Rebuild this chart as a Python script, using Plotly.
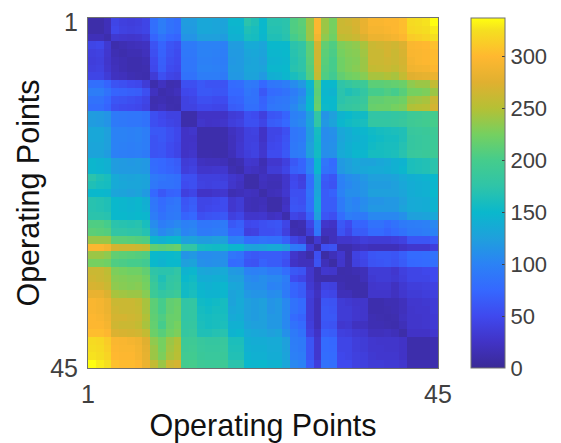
import plotly.graph_objects as go

labels = list(range(1, 46))
tick_text = ["1", "45"]
x_tick_positions = [0.5, 45.5]
y_tick_positions = [1, 45.5]
cbar_ticks = [0, 50, 100, 150, 200, 250, 300]
axis_name = "Operating Points"

# Upper triangle: each row runs from the diagonal to column 45
upper_rows = [
 [10,10,18, 45,40,38,40,45, 82,95,85,80, 122,122, 132,132,130,128, 148,148, 172,165, 150,170,170, 172, 205,212, 240, 297, 240,225, 262,265,270,282, 295,295,298,298, 303, 322,324,326,337],
 [10,18, 48,42,40,42,45, 82,95,85,80, 120,120, 132,132,130,128, 145,146, 165,160, 150,168,168, 172, 205,210, 240, 297, 240,225, 262,262,268,282, 292,292,295,298, 303, 320,322,324,330],
 [12, 32,30,28,30,35, 72,85,75,72, 115,115, 125,125,125,122, 142,142, 160,158, 148,165,165, 170, 200,208, 240, 290, 235,222, 255,258,262,272, 285,285,288,292, 298, 312,315,318,325],
 [12,15,18,20,22, 58,72,60,55, 92,92, 100,100,100,98, 122,122, 135,135, 130,150,150, 150, 172,178, 212, 268, 215,205, 228,232,235,245, 262,265,268,265, 272, 296,298,300,305],
 [12,15,15,20, 55,70,58,52, 90,90, 100,100,98,96, 120,120, 130,132, 128,148,148, 150, 170,178, 212, 265, 212,203, 225,230,232,242, 262,262,268,262, 270, 295,296,298,302],
 [12,12,15, 50,68,55,50, 88,88, 98,98,96,95, 118,120, 128,130, 125,145,146, 148, 168,175, 210, 265, 210,200, 222,228,230,240, 262,262,265,262, 268, 292,296,298,302],
 [12,13, 48,66,52,48, 88,88, 100,100,98,96, 120,120, 130,130, 128,148,148, 150, 170,175, 208, 262, 208,200, 222,228,232,240, 258,260,262,258, 266, 288,290,292,298],
 [12, 35,55,45,42, 85,85, 95,95,95,92, 118,118, 128,128, 120,140,142, 148, 160,168, 205, 258, 205,195, 215,222,225,232, 245,245,248,245, 258, 275,278,280,285],
 [12,22,13,15, 55,55, 62,58,58,58, 78,80, 92,90, 75,88,90, 95, 108,118, 148, 215, 150,150, 175,182,188,190, 212,212,214,216, 220, 235,240,240,258],
 [12,15,20, 48,50, 62,62,60,60, 75,75, 88,85, 62,78,80, 85, 95,105, 142, 212, 148,145, 172,165,170,180, 200,200,205,200, 210, 225,225,228,240],
 [12,13, 42,45, 55,55,52,52, 70,72, 85,85, 70,85,88, 90, 100,112, 148, 215, 150,150, 172,178,180,185, 215,215,218,218, 222, 240,242,245,262],
 [12, 42,42, 48,48,46,45, 65,68, 82,82, 72,88,90, 92, 105,118, 150, 218, 152,150, 178,182,185,190, 218,220,220,225, 228, 248,250,252,268],
 [11,11, 25,25,25,25, 35,38, 55,52, 40,60,62, 72, 98,102, 125, 178, 115,125, 145,150,155,155, 178,178,178,180, 182, 190,192,195,198],
 [11, 28,25,26,28, 38,42, 55,55, 45,65,68, 75, 100,105, 128, 178, 118,128, 148,155,158,160, 180,180,180,182, 185, 192,194,196,200],
 [11,11,11,12, 22,28, 40,42, 25,45,45, 55, 88,92, 122, 158, 108,112, 132,138,145,148, 155,158,160,162, 165, 185,186,188,192],
 [11,11,12, 20,28, 40,40, 25,45,48, 58, 88,92, 122, 156, 108,110, 130,138,142,145, 152,155,158,158, 165, 182,184,186,190],
 [11,11, 20,30, 40,42, 28,48,50, 60, 90,95, 125, 155, 110,112, 132,140,145,145, 155,158,160,160, 168, 182,184,186,190],
 [11, 18,30, 38,42, 30,52,52, 62, 92,95, 125, 156, 110,112, 135,140,148,148, 158,158,160,162, 170, 185,186,188,192],
 [11,15, 30,28, 15,30,30, 40, 62,72, 98, 148, 88,78, 120,125,132,128, 128,132,135,142, 145, 162,164,166,172],
 [11, 25,22, 18,35,35, 45, 68,72, 100, 148, 85,80, 118,125,130,132, 135,135,138,142, 148, 162,164,166,172],
 [10,10, 22,18,18, 28, 48,40, 80, 130, 65,60, 100,108,112,118, 125,125,125,128, 135, 140,142,145,150],
 [10, 20,16,16, 28, 50,42, 80, 128, 62,58, 98,105,110,115, 122,122,122,125, 132, 138,140,142,148],
 [10,18,20, 30, 55,55, 85, 130, 65,70, 100,110,110,115, 125,125,125,125, 130, 138,140,142,150],
 [10,10, 22, 58,55, 82, 135, 65,65, 92,105,100,108, 115,115,118,118, 125, 135,136,138,145],
 [10, 25, 60,58, 82, 135, 65,65, 92,105,102,110, 118,118,118,118, 128, 135,136,138,145],
 [12, 45,40, 68, 125, 60,55, 80,95,92,92, 105,105,105,105, 112, 125,126,128,132],
 [12,15, 45, 92, 28,25, 62,52,72,72, 85,85,78,85, 92, 95,96,98,105],
 [12, 35, 88, 20,20, 58,45,65,65, 78,78,72,78, 85, 92,92,95,100],
 [8, 32, 10,20, 28,28,32,38, 35,35,35,38, 42, 60,60,60,65],
 [8, 55,58, 12,12,18,22, 18,18,18,18, 25, 30,30,30,38],
 [8,18, 30,11,42,48, 60,62,62,60, 68, 78,78,80,85],
 [8, 28,12,40,45, 58,60,62,58, 65, 75,76,78,82],
 [11,12,15,18, 35,35,35,30, 40, 45,45,48,50],
 [11,11,18, 32,35,35,32, 38, 45,45,45,50],
 [11,12, 28,30,30,22, 32, 38,38,40,42],
 [11, 28,28,28,22, 30, 35,35,38,40],
 [12,12,15,15, 20, 30,30,32,35],
 [12,13,15, 20, 28,30,30,35],
 [12,13, 22, 28,28,30,33],
 [12, 18, 28,28,30,33],
 [10, 25,25,25,30],
 [11,11,11,14],
 [11,11,14],
 [11,14],
 [12],
]

cmax = 337
stop_values = [0, 25, 50, 75, 100, 125, 150, 175, 200, 225, 250, 275, 300, 325, 337]
stop_colors = ["#3a2a96", "#4133c6", "#3f49ee", "#3568ff", "#2b82f5", "#1fa0dc", "#0ab8cc",
               "#2fc4a8", "#45cc8c", "#75d060", "#b5c035", "#e0b030", "#ffb830", "#f5df20", "#ffff10"]

n = len(labels)
matrix = [[0] * n for _ in range(n)]
for i, row in enumerate(upper_rows):
    assert len(row) == n - i, (i + 1, len(row))
    for k, v in enumerate(row):
        matrix[i][i + k] = v
        matrix[i + k][i] = v

fig = go.Figure(go.Heatmap(
    x=labels, y=labels, z=matrix, zmin=0, zmax=cmax,
    colorscale=[[v / cmax, c] for v, c in zip(stop_values, stop_colors)],
    colorbar=dict(
        x=(471 - 88) / 350, xanchor="left", y=1, yanchor="top",
        thicknessmode="pixels", thickness=34, lenmode="fraction", len=1,
        outlinecolor="#707070", outlinewidth=1,
        ticks="inside", ticklen=3, tickcolor="#404040", tickwidth=1, tickprefix="\u00a0",
        tickvals=cbar_ticks, tickfont=dict(family="Liberation Sans", size=22, color="#404040"),
        xpad=0, ypad=0,
    ),
))
axis = dict(
    tickmode="array", ticktext=tick_text, ticks="outside", ticklen=4, tickcolor="rgba(0,0,0,0)",
    showgrid=False, zeroline=False, ticklabeloverflow="allow",
    showline=True, linecolor="#707070", linewidth=1, mirror=True, automargin=False,
    tickfont=dict(family="Liberation Sans", size=25, color="#404040"),
    title=dict(text=axis_name, font=dict(family="Liberation Sans", size=30.5, color="#111111")),
    range=[0.5, 45.5],
)
fig.update_layout(
    width=553, height=435, paper_bgcolor="white", plot_bgcolor="white",
    margin=dict(l=80, r=123, t=10, b=75, autoexpand=False),
    xaxis=dict(axis, tickvals=x_tick_positions, title_standoff=7),
    yaxis=dict(axis, tickvals=y_tick_positions, range=[45.5, 0.5], title_standoff=1),
)
fig.write_html("out.html")
